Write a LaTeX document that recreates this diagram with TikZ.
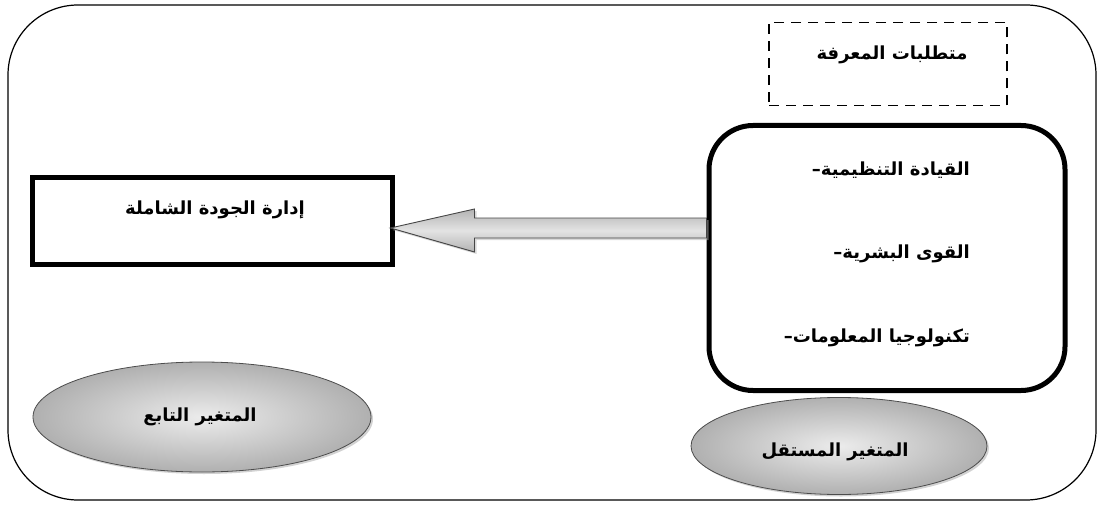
\documentclass[tikz,border=0pt]{standalone}
\usepackage{fontspec}
\newfontfamily\arabicfont[Script=Arabic]{DejaVu Sans}
\TeXXeTstate=1
\usetikzlibrary{shadows,calc,shapes.geometric}
\begin{document}
\begin{tikzpicture}[x=1pt,y=-1pt,
  ar/.style={font=\arabicfont\bfseries\fontsize{18}{21}\selectfont, inner sep=0pt},
  thickbox/.style={draw, line width=5pt, inner sep=0pt},
  oval/.style={ellipse, draw=gray!60!black, line width=0.8pt, inner color=gray!15, outer color=gray!62,
     drop shadow={shadow xshift=2pt, shadow yshift=-2pt, fill=gray!70}, inner sep=0pt}
]
\useasboundingbox (0,0) rectangle (1099,505);
% outer frame
\draw[line width=1.2pt, rounded corners=70pt] (8,5) rectangle (1096,500);
% dashed title box
\node[draw, line width=1.6pt, dash pattern=on 10pt off 7pt, minimum width=238pt, minimum height=83pt, inner sep=0pt] (req) at (888,64) {};
\node[ar] (reqt) at (892,55) {\beginR متطلبات المعرفة\endR};
% knowledge box
\node[thickbox, rounded corners=44pt, minimum width=356pt, minimum height=265pt] (kbox) at (887,258) {};
\node[ar, anchor=east] (k1) at (970,170) {\hbox{–}\hbox{\beginR القيادة التنظيمية\endR}};
\node[ar, anchor=east] (k2) at (970,254) {\hbox{–}\hbox{\beginR القوى البشرية\endR}};
\node[ar, anchor=east] (k3) at (970,338) {\hbox{–}\hbox{\beginR تكنولوجيا المعلومات\endR}};
% TQM box
\node[thickbox, minimum width=360pt, minimum height=87pt] (lbox) at (212,221) {};
\node[ar] (lt) at (215,210) {\beginR إدارة الجودة الشاملة\endR};
% arrow
\coordinate (tip) at ($(lbox.east)+(-4,7)$);
\draw[draw=gray!55!black, line width=0.9pt, top color=gray!60, bottom color=gray!60, middle color=gray!22,
      drop shadow={shadow xshift=2pt, shadow yshift=-2pt, fill=gray!60}]
  (tip) -- ++(84,-19) -- ++(0,9) -- ($(kbox.west |- tip)+(0,-10)$) -- ++(0,20)
  -- ($(tip)+(84,10)$) -- ++(0,14) -- cycle;
% ellipses
\node[oval, minimum width=338pt, minimum height=110pt] (dep) at (202,417) {};
\node[ar] (dept) at (200,417) {\beginR المتغير التابع\endR};
\node[oval, minimum width=296pt, minimum height=97pt] (ind) at (839,446) {};
\node[ar] (indt) at (835,452) {\beginR المتغير المستقل\endR};
\end{tikzpicture}
\end{document}
